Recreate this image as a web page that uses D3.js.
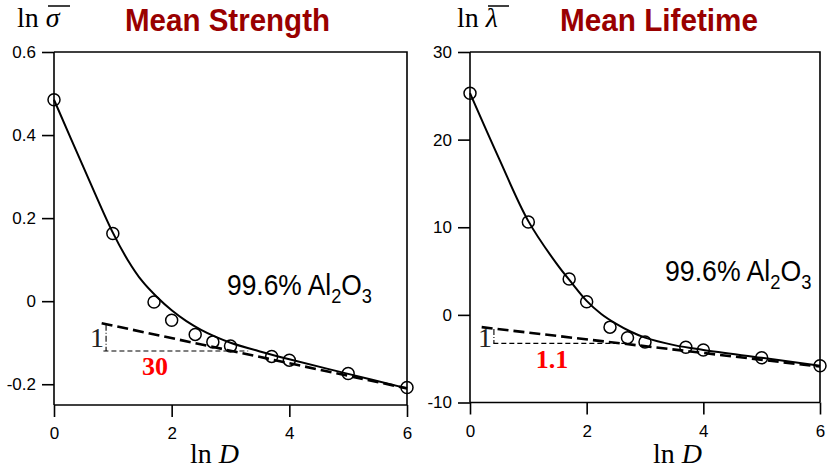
<!DOCTYPE html>
<html>
<head>
<meta charset="utf-8">
<script src="https://cdn.jsdelivr.net/npm/d3@7"></script>
<style>
  html, body { margin: 0; padding: 0; background: #fff; }
  svg { display: block; }
</style>
</head>
<body>
<svg id="chart" width="827" height="471"></svg>
<script>
// ---------- data ----------
const xTicks = [0, 2, 4, 6];

// Mean Strength panel
const strengthLnD   = [0, 1.0, 1.7, 2.0, 2.4, 2.7, 3.0, 3.7, 4.0, 5.0, 6.0];
const strengthLnSig = [0.485, 0.163, -0.002, -0.046, -0.080, -0.098, -0.108, -0.133, -0.142, -0.174, -0.208];
const strengthFitX  = [0, 0.5, 1.0, 1.25, 1.5, 1.75, 2.0, 2.25, 2.5, 2.75, 3.0, 3.5, 4.0, 5.0, 6.0];
const strengthFitY  = [0.485, 0.323, 0.165, 0.100, 0.048, 0.010, -0.022, -0.048, -0.069, -0.086, -0.100, -0.121, -0.140, -0.175, -0.210];
const strengthYTicks = [-0.2, 0, 0.2, 0.4, 0.6];
const strengthAsymX = [0.81, 6.0];
const strengthAsymY = [-0.053, -0.210];
const strengthTriH  = { x: [0.84, 3.3], y: -0.12 };
const strengthTriV  = { x: 0.885, y: [-0.057, -0.12] };
const strengthSlope = "30";

// Mean Lifetime panel
const lifeLnD   = [0, 1.0, 1.7, 2.0, 2.4, 2.7, 3.0, 3.7, 4.0, 5.0, 6.0];
const lifeLnLam = [25.3, 10.6, 4.1, 1.5, -1.4, -2.6, -3.1, -3.7, -4.0, -4.9, -5.8];
const lifeFitX  = [0, 0.5, 1.0, 1.5, 1.75, 2.0, 2.25, 2.5, 2.75, 3.0, 3.5, 4.0, 5.0, 6.0];
const lifeFitY  = [25.3, 17.8, 10.7, 5.7, 3.6, 1.6, 0.1, -1.0, -1.9, -2.6, -3.45, -4.0, -4.9, -5.8];
const lifeYTicks = [-10, 0, 10, 20, 30];
const lifeAsymX = [0.2, 6.0];
const lifeAsymY = [-1.4, -5.9];
const lifeTriH  = { x: [0.4, 2.69], y: -3.25 };
const lifeTriV  = { x: 0.41, y: [-1.6, -3.25] };
const lifeSlope = "1.1";

// ---------- drawing ----------
const svg = d3.select("#chart");
const SANS = "'Liberation Sans', Arial, sans-serif";
const SERIF = "'Liberation Serif', 'Times New Roman', serif";

function panel(cfg) {
  const x = d3.scaleLinear().domain([0, 6]).range(cfg.xr);
  const y = d3.scaleLinear().domain(cfg.yd).range(cfg.yr);
  const g = svg.append("g");
  const [x0, x1] = cfg.xr, [yb, yt] = cfg.yr;

  // frame top & right
  g.append("path").attr("d", `M${x0},${yt}H${x1}V${yb}`)
    .attr("fill", "none").attr("stroke", "#000").attr("stroke-width", 1.6);

  // y axis
  const ya = d3.axisLeft(y).tickValues(cfg.yTicks).tickSize(12).tickPadding(6)
    .tickFormat(cfg.yFmt);
  const yg = g.append("g").attr("transform", `translate(${x0},0)`).call(ya);
  // x axis
  const xa = d3.axisBottom(x).tickValues(xTicks).tickSize(12).tickPadding(10)
    .tickFormat(d3.format("d"));
  const xg = g.append("g").attr("transform", `translate(0,${yb})`).call(xa);
  [yg, xg].forEach(a => {
    a.select(".domain").attr("stroke-width", 1.6).attr("d",
      a === yg ? `M0,${yt}V${yb}` : `M${x0},0H${x1}`);
    a.selectAll(".tick line").attr("stroke-width", 1.6);
    a.selectAll("text").attr("font-family", SANS).attr("font-size", 17).attr("fill", "#000");
  });

  // asymptote dashed line
  const lineXY = d3.line().x(d => x(d[0])).y(d => y(d[1]));
  g.append("path").datum(d3.zip(cfg.asymX, cfg.asymY)).attr("d", lineXY)
    .attr("fill", "none").attr("stroke", "#000").attr("stroke-width", 2.6)
    .attr("stroke-dasharray", "11,5");
  // triangle
  g.append("path").datum(cfg.triH.x.map(v => [v, cfg.triH.y])).attr("d", lineXY)
    .attr("fill", "none").attr("stroke", "#000").attr("stroke-width", 1.1)
    .attr("stroke-dasharray", "5,3");
  g.append("path").datum(cfg.triV.y.map(v => [cfg.triV.x, v])).attr("d", lineXY)
    .attr("fill", "none").attr("stroke", "#000").attr("stroke-width", 1.1)
    .attr("stroke-dasharray", "6,2,1,2");

  // fitted curve
  g.append("path").datum(d3.zip(cfg.fitX, cfg.fitY))
    .attr("d", d3.line().x(d => x(d[0])).y(d => y(d[1])).curve(d3.curveCatmullRom))
    .attr("fill", "none").attr("stroke", "#000").attr("stroke-width", 2);

  // points
  g.selectAll("circle.pt").data(d3.zip(cfg.px, cfg.py)).join("circle")
    .attr("class", "pt")
    .attr("cx", d => x(d[0])).attr("cy", d => y(d[1])).attr("r", 6)
    .attr("fill", "none").attr("stroke", "#000").attr("stroke-width", 1.5);

  // slope labels
  g.append("text").attr("x", cfg.oneX).attr("y", 347).attr("text-anchor", "middle")
    .attr("font-family", SERIF).attr("font-size", 28).attr("fill", "#222").text("1");
  g.append("text").attr("x", cfg.slopeX).attr("y", cfg.slopeY).attr("text-anchor", "middle")
    .attr("font-family", SERIF).attr("font-weight", "bold").attr("font-size", 26)
    .attr("fill", "#ff0000").text(cfg.slope);

  // title
  g.append("text").attr("x", cfg.titleX).attr("y", 31)
    .attr("font-family", SANS).attr("font-weight", "bold").attr("font-size", 31)
    .attr("fill", "#990000").attr("textLength", cfg.titleW).attr("lengthAdjust", "spacingAndGlyphs")
    .text(cfg.title);

  // y label: ln + symbol with overline
  const yl = g.append("text").attr("x", cfg.ylX).attr("y", 27)
    .attr("font-family", SERIF).attr("font-size", 28).attr("fill", "#000");
  yl.append("tspan").text("ln ");
  yl.append("tspan").attr("font-style", "italic").text(cfg.sym);
  g.append("line").attr("x1", cfg.barX[0]).attr("x2", cfg.barX[1]).attr("y1", 6).attr("y2", 6)
    .attr("stroke", "#000").attr("stroke-width", 1.5);

  // x label
  const xl = g.append("text").attr("x", cfg.xlX).attr("y", 463)
    .attr("font-family", SERIF).attr("font-size", 28).attr("fill", "#000");
  xl.append("tspan").text("ln ");
  xl.append("tspan").attr("font-style", "italic").text("D");

  // material label (slightly condensed via transform)
  const mg = g.append("g")
    .attr("transform", `translate(${cfg.matX},${cfg.matY}) scale(${cfg.matS},1)`);
  const ml = mg.append("text").attr("x", 0).attr("y", 0)
    .attr("font-family", SANS).attr("font-size", 29).attr("fill", "#000");
  ml.append("tspan").text("99.6% Al");
  ml.append("tspan").attr("font-size", 20).attr("dy", 8).text("2");
  ml.append("tspan").attr("dy", -8).text("O");
  ml.append("tspan").attr("font-size", 20).attr("dy", 8).text("3");
}

panel({
  xr: [54, 407], yd: [-0.25, 0.6], yr: [405, 52], yTicks: strengthYTicks,
  yFmt: d => d === 0 ? "0" : d3.format(".1f")(d).replace("−", "-"),
  px: strengthLnD, py: strengthLnSig, fitX: strengthFitX, fitY: strengthFitY,
  asymX: strengthAsymX, asymY: strengthAsymY, triH: strengthTriH, triV: strengthTriV,
  slope: strengthSlope, slopeX: 155, slopeY: 375, oneX: 97,
  title: "Mean Strength", titleX: 125, titleW: 205,
  ylX: 17, sym: "σ", barX: [48, 70], xlX: 190,
  matX: 227, matY: 295, matS: 0.91
});

panel({
  xr: [470, 820], yd: [-10, 30], yr: [402.5, 52], yTicks: lifeYTicks,
  yFmt: d => String(d),
  px: lifeLnD, py: lifeLnLam, fitX: lifeFitX, fitY: lifeFitY,
  asymX: lifeAsymX, asymY: lifeAsymY, triH: lifeTriH, triV: lifeTriV,
  slope: lifeSlope, slopeX: 552, slopeY: 368, oneX: 485,
  title: "Mean Lifetime", titleX: 560, titleW: 198,
  ylX: 457, sym: "λ", barX: [488, 509], xlX: 653,
  matX: 665, matY: 281, matS: 0.92
});
</script>
</body>
</html>
